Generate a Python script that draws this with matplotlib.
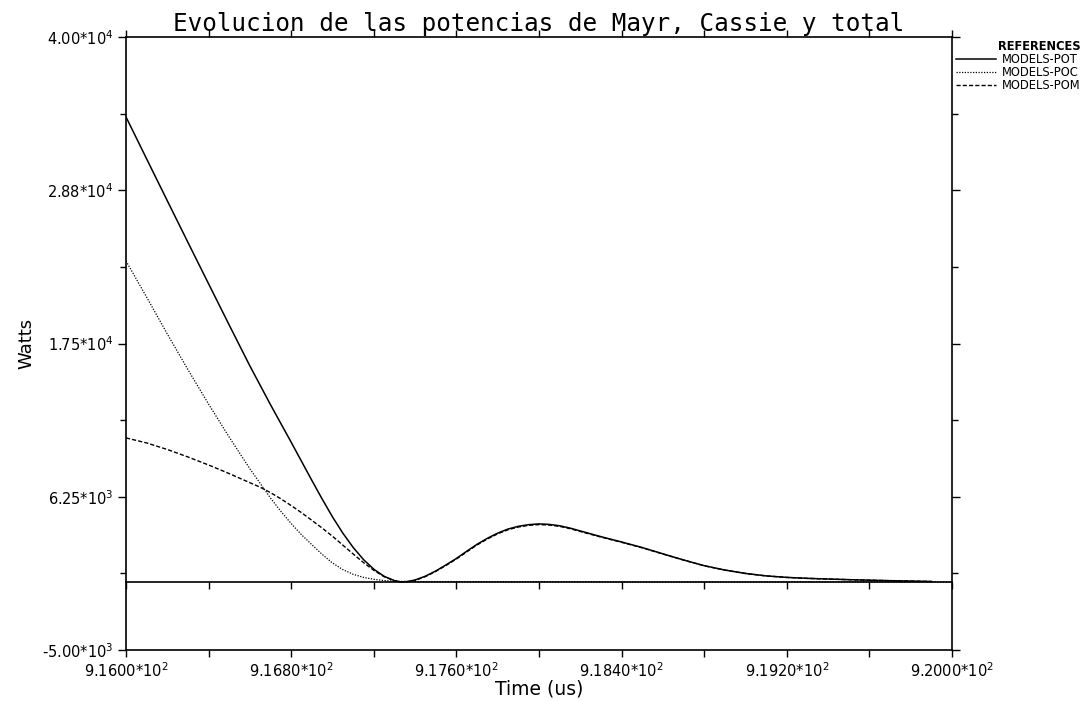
import matplotlib
matplotlib.use("Agg")
import matplotlib.pyplot as plt

# ---------------- data ----------------
time_pot = [916.0, 916.1, 916.2, 916.3, 916.4, 916.5, 916.6, 916.7, 916.8, 916.85,
            916.9, 916.95, 917.0, 917.05, 917.1, 917.15, 917.2, 917.25, 917.3, 917.33,
            917.36, 917.4, 917.45, 917.5, 917.55, 917.6, 917.65, 917.7, 917.75, 917.8,
            917.85, 917.9, 917.95, 918.0, 918.05, 918.1, 918.15, 918.2, 918.3, 918.4,
            918.5, 918.6, 918.7, 918.8, 918.9, 919.0, 919.1, 919.2, 919.3, 919.4,
            919.5, 919.6, 919.7, 919.8, 919.9]
pot = [34130, 31050, 27980, 24920, 21880, 18850, 15850, 13000, 10250, 8850,
       7450, 6080, 4770, 3580, 2530, 1640, 930, 410, 90, 0,
       20, 140, 420, 800, 1250, 1720, 2250, 2760, 3200, 3580,
       3880, 4080, 4200, 4257, 4220, 4120, 3950, 3740, 3320, 2930,
       2520, 2060, 1610, 1190, 870, 620, 440, 330, 260, 210,
       165, 125, 90, 60, 30]

time_poc = [916.0, 916.1, 916.2, 916.3, 916.4, 916.5, 916.6, 916.7, 916.75, 916.8,
            916.85, 916.9, 916.95, 917.0, 917.05, 917.1, 917.15, 917.2, 917.25, 917.3,
            917.35, 917.4, 917.6, 917.8, 918.0, 918.2, 918.3, 918.35, 918.5, 919.0,
            919.5, 920.0]
poc = [23560, 20900, 18200, 15580, 13050, 10620, 8300, 6150, 5180, 4280,
       3460, 2730, 2020, 1390, 900, 560, 330, 190, 100, 50,
       32, 25, 22, 20, 18, 15, 12, 0, 0, 0,
       0, 0]

time_pom = [916.0, 916.1, 916.2, 916.3, 916.4, 916.5, 916.6, 916.65, 916.7, 916.75,
            916.8, 916.85, 916.9, 916.95, 917.0, 917.05, 917.1, 917.15, 917.2, 917.25,
            917.3, 917.33, 917.36, 917.4, 917.45, 917.5, 917.55, 917.6, 917.65, 917.7,
            917.75, 917.8, 917.85, 917.9, 917.95, 918.0, 918.05, 918.1, 918.15, 918.2,
            918.3, 918.4, 918.5, 918.6, 918.7, 918.8, 918.9, 919.0, 919.1, 919.2,
            919.3, 919.4, 919.5, 919.6, 919.7, 919.8, 919.9]
pom = [10570, 10200, 9720, 9170, 8580, 7950, 7280, 6950, 6550, 6100,
       5600, 5080, 4520, 3950, 3350, 2700, 2050, 1420, 850, 380,
       90, 0, 0, 110, 390, 770, 1210, 1680, 2200, 2710,
       3150, 3530, 3830, 4030, 4150, 4205, 4170, 4075, 3910, 3700,
       3290, 2905, 2500, 2045, 1600, 1182, 865, 617, 438, 328,
       258, 208, 163, 123, 88, 58, 28]

x_major = [916.0, 916.8, 917.6, 918.4, 919.2, 920.0]
x_major_labels = ['9.1600*10$^{2}$', '9.1680*10$^{2}$', '9.1760*10$^{2}$',
                  '9.1840*10$^{2}$', '9.1920*10$^{2}$', '9.2000*10$^{2}$']
x_minor = [916.4, 917.2, 918.0, 918.8, 919.6]
y_major = [-5000, 6250, 17500, 28750, 40000]
y_major_labels = ['-5.00*10$^{3}$', '6.25*10$^{3}$', '1.75*10$^{4}$',
                  '2.88*10$^{4}$', '4.00*10$^{4}$']
y_minor = [625, 11875, 23125, 34375]

title = "Evolucion de las potencias de Mayr, Cassie y total"
series_labels = ["MODELS-POT", "MODELS-POC", "MODELS-POM"]

# ---------------- figure ----------------
plt.rcParams['mathtext.fontset'] = 'dejavusans'
W, H = 1089, 701
fig = plt.figure(figsize=(W / 100, H / 100), dpi=100)
fig.subplots_adjust(left=126 / W, right=952 / W, top=1 - 37 / H, bottom=1 - 650 / H)
ax = fig.add_subplot(111)

l_pot, = ax.plot(time_pot, pot, color='black', lw=1.1, ls='-')
l_poc, = ax.plot(time_poc, poc, color='black', lw=0.9, ls=(0, (1, 1.2)))
l_pom, = ax.plot(time_pom, pom, color='black', lw=1.0, ls=(0, (3, 1.5)))

ax.set_xlim(916.0, 920.0)
ax.set_ylim(-5000, 40000)

for sp in ax.spines.values():
    sp.set_linewidth(1.2)
    sp.set_color('black')

ax.set_xticks(x_major)
ax.set_xticklabels(x_major_labels, fontsize=10.5)
ax.set_xticks(x_minor, minor=True)
ax.set_yticks(y_major)
ax.set_yticklabels(y_major_labels, fontsize=10.5)
ax.set_yticks(y_minor, minor=True)

ax.tick_params(axis='x', which='both', direction='out', length=5, width=1,
               top=True, bottom=True, pad=3)
ax.tick_params(axis='y', which='major', direction='out', length=6, width=1,
               left=True, right=True, pad=3)
ax.tick_params(axis='y', which='minor', direction='out', length=4, width=1,
               left=True, right=True)

# zero line with its own downward ticks
try:
    sec = ax.secondary_xaxis(0.0, transform=ax.transData)
except TypeError:
    sec = ax.secondary_xaxis(5000 / 45000)
sec.set_xticks(x_major + x_minor)
sec.tick_params(axis='x', direction='out', length=5, width=1, labelbottom=False,
                labeltop=False)
sec.spines['bottom'].set_linewidth(1.2)

ax.set_title(title, fontsize=17.5, family='DejaVu Sans Mono', pad=4)
ax.set_xlabel("Time (us)", fontsize=13.5)
ax.set_ylabel("Watts", fontsize=13)
ax.xaxis.set_label_coords(0.5, -0.048)
ax.yaxis.set_label_coords(-0.11, 0.5)

leg = fig.legend([l_pot, l_poc, l_pom], series_labels, title="REFERENCES",
                 loc='upper left', bbox_to_anchor=(956 / W, 1 - 40 / H),
                 frameon=False, fontsize=8.3, title_fontsize=8.3,
                 handlelength=3.5, handletextpad=0.45, labelspacing=0.0,
                 borderpad=0.0, borderaxespad=0.0)
leg.get_title().set_fontweight('bold')
leg._legend_box.align = "right"

fig.savefig("out.png", dpi=100)
